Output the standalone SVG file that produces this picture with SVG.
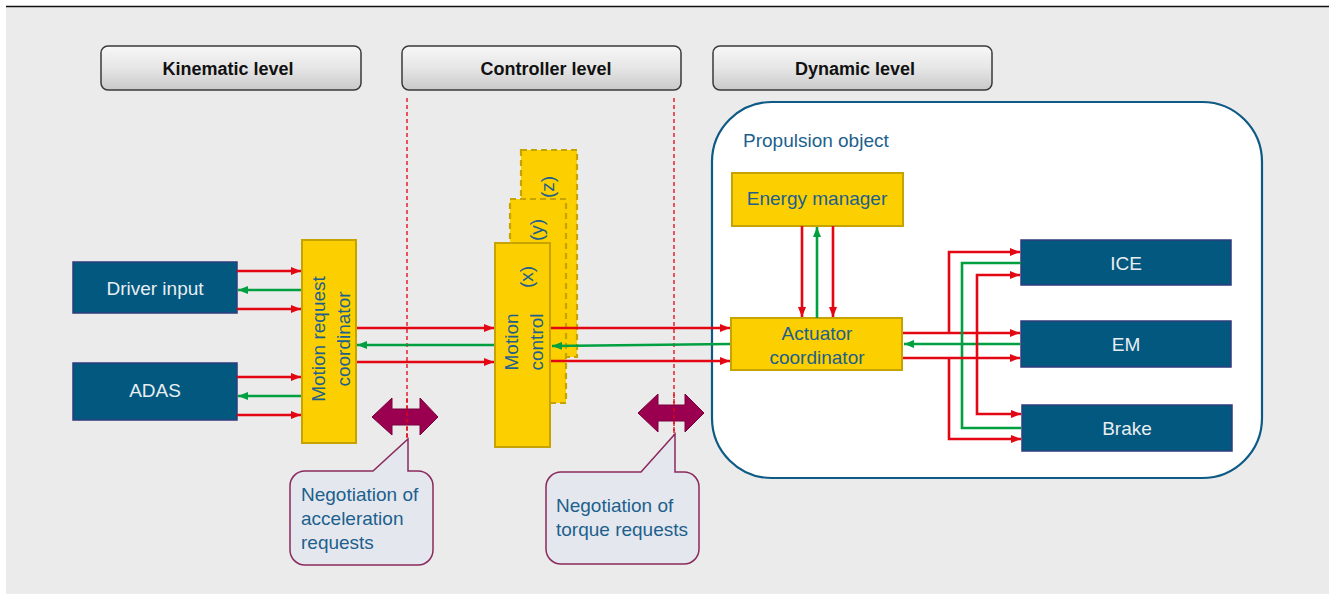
<svg xmlns="http://www.w3.org/2000/svg" width="1335" height="599" viewBox="0 0 1335 599">
  <defs>
    <linearGradient id="hdrGrad" x1="0" y1="0" x2="0" y2="1">
      <stop offset="0" stop-color="#f7f7f7"/>
      <stop offset="0.5" stop-color="#e6e6e6"/>
      <stop offset="1" stop-color="#c9c9c9"/>
    </linearGradient>
    <marker id="arR" viewBox="0 0 10 8" refX="10" refY="4" markerWidth="10" markerHeight="8" markerUnits="userSpaceOnUse" orient="auto">
      <path d="M0,0 L10,4 L0,8 z" fill="#e30613"/>
    </marker>
    <marker id="arG" viewBox="0 0 10 8" refX="10" refY="4" markerWidth="10" markerHeight="8" markerUnits="userSpaceOnUse" orient="auto">
      <path d="M0,0 L10,4 L0,8 z" fill="#00a040"/>
    </marker>
  </defs>
  <style>
    text { font-family: "Liberation Sans", Arial, sans-serif; }
    .hdr rect { fill: url(#hdrGrad); stroke: #3a3a3a; stroke-width: 1.5; }
    .hdr text { font-size: 18px; font-weight: bold; fill: #111; text-anchor: middle; }
    .blue rect { fill: #02587f; stroke: #2e3c7c; stroke-width: 1.5; }
    .blue text { font-size: 19px; fill: #e9eef2; text-anchor: middle; }
    .yel rect { fill: #fccf00; stroke: #c6a300; stroke-width: 2; }
    .yel text { font-size: 19px; fill: #1d5f8d; text-anchor: middle; }
    .dash rect { stroke-dasharray: 6 4; stroke-width: 2.2; }
    .red { stroke: #e30613; stroke-width: 2.6; fill: none; }
    .grn { stroke: #00a040; stroke-width: 2.6; fill: none; }
    .rA { marker-end: url(#arR); }
    .gA { marker-end: url(#arG); }
    .bound { stroke: #e30613; stroke-width: 1.3; stroke-dasharray: 4 3; fill: none; }
    .dbl { fill: #9b0050; stroke: #7a003e; stroke-width: 1; }
    .callout path { fill: #e4e8ee; stroke: #8a2a5c; stroke-width: 1.5; }
    .callout text { font-size: 19px; fill: #1d5f8d; }
  </style>

  <!-- page background -->
  <rect x="0" y="0" width="1335" height="599" fill="#ffffff"/>
  <rect x="6" y="7" width="1323" height="587" fill="#ebebeb"/>
  <line x1="6" y1="6.5" x2="1329" y2="6.5" stroke="#111" stroke-width="1.6"/>

  <!-- level headers -->
  <g id="kinematic-level" class="hdr">
    <rect x="101" y="46" width="260" height="44" rx="7"/>
    <text x="228" y="75">Kinematic level</text>
  </g>
  <g id="controller-level" class="hdr">
    <rect x="402" y="46" width="279" height="44" rx="7"/>
    <text x="546" y="75">Controller level</text>
  </g>
  <g id="dynamic-level" class="hdr">
    <rect x="713" y="46" width="279" height="44" rx="7"/>
    <text x="855" y="75">Dynamic level</text>
  </g>

  <!-- propulsion object container -->
  <g id="propulsion-object">
    <rect x="712" y="102" width="550" height="376" rx="60" fill="#ffffff" stroke="#0d5a85" stroke-width="2.2"/>
    <text x="743" y="147" font-size="19" fill="#1d5f8d">Propulsion object</text>
  </g>

  <!-- kinematic sources -->
  <g id="driver-input" class="blue">
    <rect x="73" y="262" width="164" height="51"/>
    <text x="155" y="295">Driver input</text>
  </g>
  <g id="adas" class="blue">
    <rect x="73" y="363" width="164" height="57"/>
    <text x="155" y="397">ADAS</text>
  </g>

  <!-- motion request coordinator -->
  <g id="motion-request-coordinator" class="yel">
    <rect x="302" y="240" width="54" height="203"/>
    <text transform="translate(329,339) rotate(-90)"><tspan x="0" y="-4">Motion request</tspan><tspan x="0" y="21">coordinator</tspan></text>
  </g>

  <!-- motion control instances (z), (y), (x) -->
  <g id="motion-control-z" class="yel dash">
    <rect x="521" y="150" width="56" height="207"/>
    <text transform="translate(548,187) rotate(-90)" y="6">(z)</text>
  </g>
  <g id="motion-control-y" class="yel dash">
    <rect x="510" y="199" width="56" height="204"/>
    <text transform="translate(537,230) rotate(-90)" y="6">(y)</text>
  </g>
  <g id="motion-control-x" class="yel">
    <rect x="495" y="243" width="55" height="204"/>
    <text transform="translate(527,277) rotate(-90)" y="6">(x)</text>
    <text transform="translate(523,342) rotate(-90)"><tspan x="0" y="-5">Motion</tspan><tspan x="0" y="20">control</tspan></text>
  </g>

  <!-- dynamic level nodes -->
  <g id="energy-manager" class="yel">
    <rect x="732" y="173" width="171" height="53"/>
    <text x="817" y="205">Energy manager</text>
  </g>
  <g id="actuator-coordinator" class="yel">
    <rect x="731" y="318" width="171" height="52"/>
    <text x="817" y="340">Actuator</text>
    <text x="817" y="364">coordinator</text>
  </g>
  <g id="ice" class="blue">
    <rect x="1021" y="240" width="210" height="45"/>
    <text x="1126" y="270">ICE</text>
  </g>
  <g id="em" class="blue">
    <rect x="1021" y="321" width="210" height="46"/>
    <text x="1126" y="351">EM</text>
  </g>
  <g id="brake" class="blue">
    <rect x="1022" y="405" width="210" height="46"/>
    <text x="1127" y="435">Brake</text>
  </g>

  <!-- level boundaries -->
  <g id="boundaries">
    <line class="bound" x1="407" y1="98" x2="407" y2="440"/>
    <line class="bound" x1="674" y1="98" x2="674" y2="435"/>
  </g>

  <!-- connectors -->
  <g id="connectors">
    <!-- driver input / ADAS to motion request coordinator -->
    <line class="red rA" x1="237" y1="271" x2="301" y2="271"/>
    <line class="grn gA" x1="301" y1="290" x2="238" y2="290"/>
    <line class="red rA" x1="237" y1="309" x2="301" y2="309"/>
    <line class="red rA" x1="237" y1="377" x2="301" y2="377"/>
    <line class="grn gA" x1="301" y1="396" x2="238" y2="396"/>
    <line class="red rA" x1="237" y1="415" x2="301" y2="415"/>

    <!-- coordinator to motion control -->
    <line class="red rA" x1="357" y1="328" x2="494" y2="328"/>
    <line class="grn gA" x1="494" y1="345" x2="357" y2="345"/>
    <line class="red rA" x1="357" y1="362" x2="494" y2="362"/>

    <!-- motion control to actuator coordinator -->
    <line class="red rA" x1="551" y1="328" x2="730" y2="328"/>
    <line class="grn gA" x1="730" y1="344" x2="552" y2="346"/>
    <line class="red rA" x1="551" y1="361" x2="730" y2="361"/>

    <!-- energy manager and actuator coordinator -->
    <line class="red rA" x1="802" y1="226" x2="802" y2="317"/>
    <line class="grn gA" x1="817" y1="318" x2="817" y2="227"/>
    <line class="red rA" x1="833" y1="226" x2="833" y2="317"/>

    <!-- actuator coordinator to actuators -->
    <line class="red rA" x1="903" y1="333" x2="1020" y2="333"/>
    <polyline class="red rA" points="949,333 949,252 1020,252"/>
    <line class="grn gA" x1="1020" y1="344" x2="904" y2="344"/>
    <polyline class="grn" points="1021,263 962,263 962,428 1021,428"/>
    <line class="red rA" x1="903" y1="358" x2="1020" y2="358"/>
    <polyline class="red rA" points="949,358 949,439 1021,439"/>
    <polyline class="red rA" points="977,345 977,275 1020,275"/>
    <polyline class="red rA" points="977,345 977,414 1021,414"/>
  </g>

  <!-- negotiation markers -->
  <g id="negotiation-acceleration">
    <path class="dbl" d="M372,417 L392,398 V409 H420 V398 L438,417 L420,435 V425 H392 V435 Z"/>
    <line class="bound" x1="407" y1="398" x2="407" y2="440"/>
    <g class="callout">
      <path d="M305,471 H373 L408,439 V471 H418 A15,15 0 0 1 433,486 V550 A15,15 0 0 1 418,565 H305 A15,15 0 0 1 290,550 V486 A15,15 0 0 1 305,471 Z"/>
      <text x="301" y="501">Negotiation of</text>
      <text x="301" y="525">acceleration</text>
      <text x="301" y="549">requests</text>
    </g>
  </g>
  <g id="negotiation-torque">
    <path class="dbl" d="M638,413 L658,394 V405 H685 V394 L704,413 L685,432 V421 H658 V432 Z"/>
    <line class="bound" x1="674" y1="394" x2="674" y2="435"/>
    <g class="callout">
      <path d="M561,472 H641 L675,434 V472 H684 A15,15 0 0 1 699,487 V549 A15,15 0 0 1 684,564 H561 A15,15 0 0 1 546,549 V487 A15,15 0 0 1 561,472 Z"/>
      <text x="556" y="512">Negotiation of</text>
      <text x="556" y="536">torque requests</text>
    </g>
  </g>
</svg>
